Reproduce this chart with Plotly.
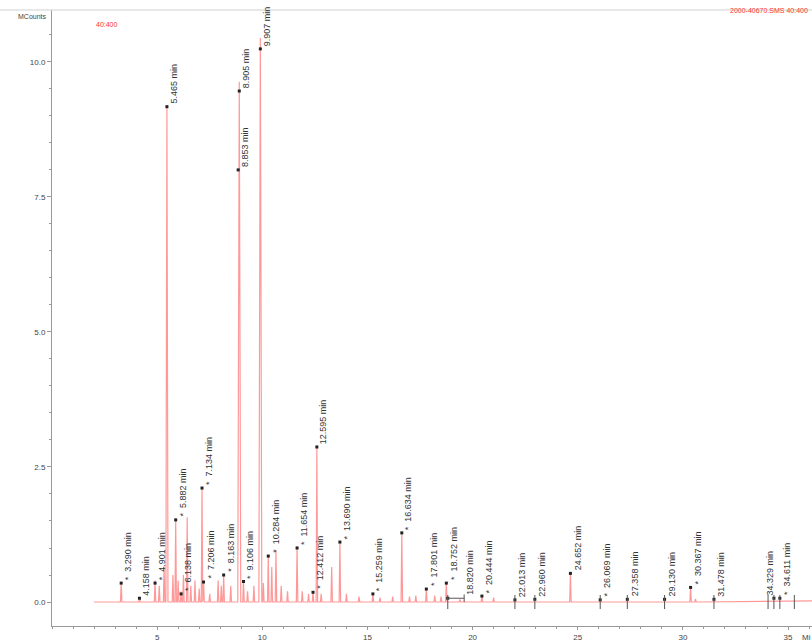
import plotly.graph_objects as go

# ---------------- data ----------------
# chromatogram peaks: retention time (min) and apex height (MCounts)
peak_rt = [3.29, 4.16, 4.90, 5.10, 5.33, 5.465, 5.75, 5.882, 6.00, 6.138, 6.25, 6.43, 6.60,
           6.80, 7.00, 7.134, 7.206, 7.50, 7.90, 8.05, 8.163, 8.50, 8.905, 9.106, 9.30,
           9.60, 9.907, 10.05, 10.284, 10.45, 10.65, 10.90, 11.20, 11.654, 11.90, 12.20,
           12.412, 12.595, 12.80, 13.30, 13.690, 14.00, 14.60, 15.259, 15.60, 16.20,
           16.634, 17.00, 17.30, 17.801, 18.20, 18.50, 18.752, 19.40, 20.444, 21.00,
           24.652, 30.367, 30.60]
peak_h = [0.37, 0.07, 0.40, 0.30, 0.66, 9.20, 0.50, 1.55, 0.40, 0.20, 0.50, 1.57, 0.30,
          0.40, 0.25, 2.13, 0.40, 0.15, 0.40, 0.30, 0.52, 0.30, 9.63, 0.40, 0.20,
          0.30, 10.44, 0.35, 0.88, 0.65, 0.96, 0.30, 0.20, 1.03, 0.20, 0.15,
          0.20, 2.90, 0.15, 0.65, 1.13, 0.15, 0.10, 0.16, 0.08, 0.10,
          1.30, 0.10, 0.12, 0.25, 0.12, 0.10, 0.37, 0.05, 0.12, 0.08,
          0.55, 0.29, 0.06]
run_start = 2.0
run_end = 36.2

# labelled peaks (retention time, marker height)
label_rt = [3.290, 4.158, 4.901, 5.465, 5.882, 6.138, 7.134, 7.206, 8.163, 8.853, 8.905,
            9.106, 9.907, 10.284, 11.654, 12.412, 12.595, 13.690, 15.259, 16.634, 17.801,
            18.752, 18.820, 20.444, 22.013, 22.960, 24.652, 26.069, 27.358, 29.130,
            30.367, 31.478, 34.329, 34.611]
label_h = [0.35, 0.07, 0.35, 9.17, 1.52, 0.15, 2.11, 0.37, 0.50, 8.00, 9.46,
           0.38, 10.24, 0.85, 1.00, 0.18, 2.87, 1.11, 0.15, 1.28, 0.24,
           0.35, 0.07, 0.11, 0.04, 0.05, 0.53, 0.04, 0.05, 0.05,
           0.27, 0.05, 0.07, 0.07]
# labels that carry no asterisk in the reference
plain_labels = [4.158, 5.465, 8.853, 8.905, 9.907, 12.595, 18.820, 22.013, 22.960,
                24.652, 27.358, 29.130, 31.478, 34.329]

# integration tick marks drawn across the baseline
tick_rt = [18.820, 22.013, 22.960, 26.069, 27.358, 29.130, 31.478, 34.05, 34.329, 34.611, 35.3]

x_ticks = [5, 10, 15, 20, 25, 30, 35]
y_ticks = [0.0, 2.5, 5.0, 7.5, 10.0]

FONT = "Arial, Liberation Sans, sans-serif"

# ---------------- build the trace vertices ----------------
xs, ys = [run_start], [0.0]
for rt, h in sorted(zip(peak_rt, peak_h)):
    w = 0.07 if h > 9.5 else (0.05 if h > 5 else 0.035)
    xs += [rt - w, rt, rt + w]
    ys += [0.0, h, 0.0]
xs.append(run_end)
ys.append(0.02)

fig = go.Figure()
fig.add_trace(go.Scatter(x=xs, y=ys, mode="lines",
                         line=dict(color="rgba(255,70,70,0.55)", width=1.2),
                         hoverinfo="skip", showlegend=False))

# integration ticks
for rt in tick_rt:
    fig.add_shape(type="line", x0=rt, x1=rt, y0=-0.13, y1=0.13, xref="x", yref="y",
                  line=dict(color="#555", width=1))
fig.add_shape(type="line", x0=18.82, x1=19.6, y0=0.07, y1=0.07, xref="x", yref="y",
              line=dict(color="#555", width=1))
fig.add_shape(type="line", x0=19.6, x1=19.6, y0=0.0, y1=0.14, xref="x", yref="y",
              line=dict(color="#555", width=1))

fig.add_trace(go.Scatter(x=label_rt, y=label_h, mode="markers",
                         marker=dict(symbol="square", size=3, color="#222"),
                         hoverinfo="skip", showlegend=False))

# labels: a few sit away from their marker in the reference
label_anchor = {18.820: 19.55, 34.329: 33.8}
for rt, h in zip(label_rt, label_h):
    ax = label_anchor.get(rt, rt)
    txt = f"{rt:.3f} min" if rt in plain_labels else f"*  {rt:.3f} min"
    fig.add_annotation(x=ax, y=h, xref="x", yref="y", text=txt,
                       textangle=-90, showarrow=False, xanchor="left", yanchor="bottom",
                       xshift=0, yshift=1,
                       font=dict(family=FONT, size=9, color="#333"))

# header texts
fig.add_annotation(x=0, y=1, xref="paper", yref="paper", text="MCounts", showarrow=False,
                   xanchor="right", yanchor="top", xshift=-3, yshift=-1,
                   font=dict(family=FONT, size=7, color="#444"))
fig.add_annotation(x=0, y=1, xref="paper", yref="paper", text="40:400", showarrow=False,
                   xanchor="left", yanchor="top", xshift=42, yshift=-9,
                   font=dict(family=FONT, size=7, color="#ff3030"))
fig.add_annotation(x=1, y=1, xref="paper", yref="paper", text="2000-40670.SMS 40:400",
                   showarrow=False, xanchor="right", yanchor="bottom", xshift=-2, yshift=-6,
                   font=dict(family=FONT, size=7, color="#ff3030"))
fig.add_annotation(x=1, y=0, xref="paper", yref="paper", text="Mi",
                   showarrow=False, xanchor="left", yanchor="top", xshift=-12, yshift=-5,
                   font=dict(family=FONT, size=8, color="#444"))

# top border line
fig.add_shape(type="line", x0=-52 / 760, x1=1, y0=1, y1=1, xref="paper", yref="paper",
              line=dict(color="#d0d0d0", width=1))

fig.update_layout(
    width=812, height=643,
    margin=dict(l=52, r=0, t=10, b=17),
    paper_bgcolor="white", plot_bgcolor="white",
    font=dict(family=FONT, size=8, color="#444"),
    xaxis=dict(range=[0, 36.14], tickvals=x_ticks, ticktext=[str(v) for v in x_ticks],
               automargin=False,
               showgrid=False, zeroline=False, showline=True, linecolor="#999", linewidth=1,
               ticks="outside", ticklen=3, tickcolor="#999",
               minor=dict(dtick=1, tick0=0, ticks="outside", ticklen=2, tickcolor="#999"),
               tickfont=dict(size=8, color="#444")),
    yaxis=dict(range=[-0.444, 10.96], tickvals=y_ticks, ticktext=[f"{v:.1f}" for v in y_ticks],
               automargin=False,
               showgrid=False, zeroline=False, showline=True, linecolor="#999", linewidth=1,
               ticks="outside", ticklen=4, tickcolor="#999",
               minor=dict(dtick=0.5, tick0=0, ticks="outside", ticklen=2, tickcolor="#999"),
               tickfont=dict(size=8, color="#444")),
)

fig.write_html("out.html")
